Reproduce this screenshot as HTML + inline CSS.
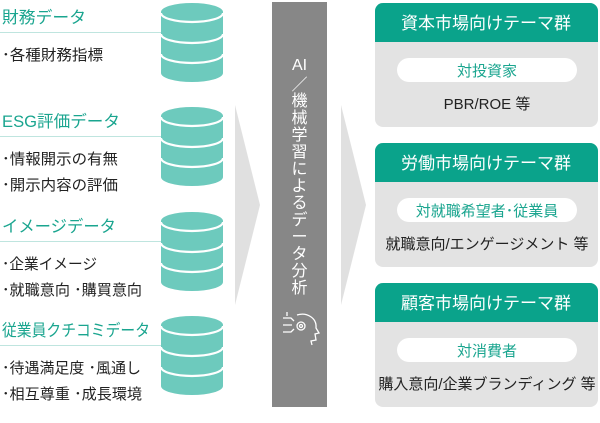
<!DOCTYPE html>
<html><head><meta charset="utf-8"><style>
html,body{margin:0;padding:0;background:#fff;}
svg text{font-family:"Liberation Sans","Noto Sans CJK JP",sans-serif;}
</style></head><body>
<svg width="600" height="418" viewBox="0 0 600 418" xmlns="http://www.w3.org/2000/svg">
<defs>
<g id="db">
<path d="M0,9 L0,70 A31,9 0 0 0 62,70 L62,9 Z" fill="#6dcabd"/>
<ellipse cx="31" cy="9" rx="31" ry="9" fill="#6dcabd"/>
<path d="M0,10 A31,9 0 0 0 62,10" fill="none" stroke="#fff" stroke-width="2.2"/>
<path d="M0,31 A31,9 0 0 0 62,31" fill="none" stroke="#fff" stroke-width="2.2"/>
<path d="M0,51 A31,9 0 0 0 62,51" fill="none" stroke="#fff" stroke-width="2.2"/>
</g>
</defs>
<polygon points="235,105 260,205 235,305" fill="#e0e0e0"/>
<polygon points="341,105 366,205 341,305" fill="#e0e0e0"/>
<rect x="272" y="2" width="55" height="405" fill="#878787"/>
<text x="299.5" y="70" font-size="16" fill="#fff" text-anchor="middle">AI</text>
<g font-size="16" fill="#fff" text-anchor="middle">
<text x="299.5" y="90">／</text>
<text x="299.5" y="106">機</text><text x="299.5" y="123">械</text><text x="299.5" y="140">学</text><text x="299.5" y="157">習</text><text x="299.5" y="174">に</text><text x="299.5" y="191">よ</text><text x="299.5" y="208">る</text><text x="299.5" y="225">デ</text><text x="299.5" y="242">ー</text><text x="299.5" y="259">タ</text><text x="299.5" y="276">分</text><text x="299.5" y="293">析</text>
</g>
<g fill="none" stroke="#fff" stroke-width="1.3">
<path d="M297,315 C307,312 317,318 316,328 L319,333 L315,334 L316,340 L311,341 L312,345"/>
<circle cx="301" cy="326" r="4"/><circle cx="301" cy="326" r="1.5"/>
<path d="M283,318 h8 l3,3 M283,325 h9 M283,332 h8 l3,-3 M287,312 v4"/>
</g>
<g fill="#1aa58f" font-size="16.5">
<text x="2" y="23" textLength="84" lengthAdjust="spacingAndGlyphs">財務データ</text>
<text x="2" y="127" textLength="118" lengthAdjust="spacingAndGlyphs">ESG評価データ</text>
<text x="2" y="232" textLength="114" lengthAdjust="spacingAndGlyphs">イメージデータ</text>
<text x="2" y="336" textLength="148" lengthAdjust="spacingAndGlyphs">従業員クチコミデータ</text>
</g>
<g stroke="#bfe5df" stroke-width="1">
<line x1="0" y1="32.5" x2="162" y2="32.5"/>
<line x1="0" y1="136.5" x2="162" y2="136.5"/>
<line x1="0" y1="241.5" x2="162" y2="241.5"/>
<line x1="0" y1="345.5" x2="162" y2="345.5"/>
</g>
<g fill="#222" font-size="15">
<text x="2" y="60" textLength="101" lengthAdjust="spacingAndGlyphs">･各種財務指標</text>
<text x="2" y="164" textLength="116" lengthAdjust="spacingAndGlyphs">･情報開示の有無</text>
<text x="2" y="190" textLength="116" lengthAdjust="spacingAndGlyphs">･開示内容の評価</text>
<text x="2" y="269" textLength="95" lengthAdjust="spacingAndGlyphs">･企業イメージ</text>
<text x="2" y="295" textLength="140" lengthAdjust="spacingAndGlyphs">･就職意向 ･購買意向</text>
<text x="2" y="373" textLength="139" lengthAdjust="spacingAndGlyphs">･待遇満足度 ･風通し</text>
<text x="2" y="399" textLength="140" lengthAdjust="spacingAndGlyphs">･相互尊重 ･成長環境</text>
</g>
<use href="#db" x="161" y="3"/>
<use href="#db" x="161" y="107"/>
<use href="#db" x="161" y="212"/>
<use href="#db" x="161" y="316"/>
<g>
<rect x="375" y="3" width="223" height="124" rx="8" fill="#e3e3e3"/>
<path d="M375,42 V11 a8,8 0 0 1 8,-8 H590 a8,8 0 0 1 8,8 V42 Z" fill="#0aa38b"/>
<text x="486" y="29" font-size="17" fill="#fff" text-anchor="middle">資本市場向けテーマ群</text>
<rect x="397" y="58" width="180" height="24" rx="12" fill="#fff"/>
<text x="487" y="76" font-size="15" fill="#1aa58f" text-anchor="middle">対投資家</text>
<text x="487" y="109" font-size="15" fill="#222" text-anchor="middle">PBR/ROE 等</text>

<rect x="375" y="143" width="223" height="124" rx="8" fill="#e3e3e3"/>
<path d="M375,182 V151 a8,8 0 0 1 8,-8 H590 a8,8 0 0 1 8,8 V182 Z" fill="#0aa38b"/>
<text x="486" y="169" font-size="17" fill="#fff" text-anchor="middle">労働市場向けテーマ群</text>
<rect x="397" y="198" width="180" height="24" rx="12" fill="#fff"/>
<text x="487" y="216" font-size="15" fill="#1aa58f" text-anchor="middle">対就職希望者･従業員</text>
<text x="487" y="249" font-size="15" fill="#222" text-anchor="middle">就職意向/エンゲージメント 等</text>

<rect x="375" y="283" width="223" height="124" rx="8" fill="#e3e3e3"/>
<path d="M375,322 V291 a8,8 0 0 1 8,-8 H590 a8,8 0 0 1 8,8 V322 Z" fill="#0aa38b"/>
<text x="486" y="309" font-size="17" fill="#fff" text-anchor="middle">顧客市場向けテーマ群</text>
<rect x="397" y="338" width="180" height="24" rx="12" fill="#fff"/>
<text x="487" y="356" font-size="15" fill="#1aa58f" text-anchor="middle">対消費者</text>
<text x="487" y="389" font-size="15" fill="#222" text-anchor="middle">購入意向/企業ブランディング 等</text>
</g>
</svg>
</body></html>
